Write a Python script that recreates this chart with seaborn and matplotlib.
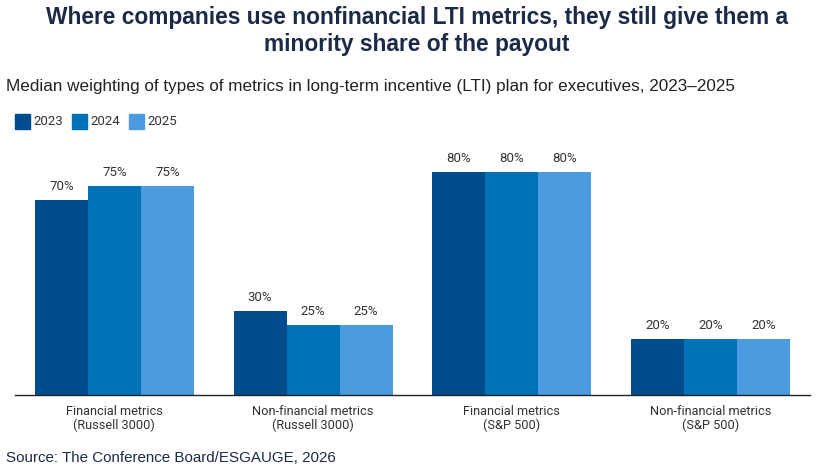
import pandas as pd
import matplotlib.pyplot as plt
import seaborn as sns

sns.set_theme(style="white")
plt.rcParams["font.family"] = ["Liberation Sans", "DejaVu Sans"]

categories = ["Financial metrics\n(Russell 3000)", "Non-financial metrics\n(Russell 3000)",
              "Financial metrics\n(S&P 500)", "Non-financial metrics\n(S&P 500)"]
years = ["2023", "2024", "2025"]
values_2023 = [70, 30, 80, 20]
values_2024 = [75, 25, 80, 20]
values_2025 = [75, 25, 80, 20]
colors = ["#004C8C", "#0072B5", "#4A9BDF"]

df = pd.DataFrame({
    "category": categories * 3,
    "year": [y for y in years for _ in categories],
    "value": values_2023 + values_2024 + values_2025,
})

fig = plt.figure(figsize=(8.34, 4.71), dpi=100)
ax = fig.add_axes([15 / 834, 1 - 395 / 471, 795 / 834, 245 / 471])

sns.barplot(data=df, x="category", y="value", hue="year", palette=colors,
            width=0.8, gap=0, saturation=1, linewidth=0, ax=ax, legend=False)

for cont in ax.containers:
    ax.bar_label(cont, labels=[f"{v:.0f}%" for v in cont.datavalues],
                 padding=5, fontsize=9.5, color="#333333", family="Roboto")

ax.set_xlim(-0.5, 3.5)
ax.set_ylim(0, 245 / 2.79)
ax.set_yticks([])
ax.set_xlabel("")
ax.set_ylabel("")
for s in ["top", "right", "left"]:
    ax.spines[s].set_visible(False)
ax.spines["bottom"].set_color("#222222")
ax.spines["bottom"].set_linewidth(1)
ax.tick_params(axis="x", length=0, pad=7)
for lbl in ax.get_xticklabels():
    lbl.set_fontsize(9.2)
    lbl.set_color("#333333")
    lbl.set_family("Roboto")
    lbl.set_linespacing(1.1)

fig.text(0.5, 1 - 31 / 471, "Where companies use nonfinancial LTI metrics, they still give them a\nminority share of the payout",
         ha="center", va="center", fontsize=16.4, fontweight="bold", color="#1B2A47", linespacing=1.2)
fig.text(6 / 834, 1 - 87 / 471, "Median weighting of types of metrics in long-term incentive (LTI) plan for executives, 2023\u20132025",
         ha="left", va="center", fontsize=12.35, color="#222222")

x0 = 15
for i, (yr, c) in enumerate(zip(years, colors)):
    fx = (x0 + i * 57) / 834
    fig.patches.append(plt.Rectangle((fx, 1 - 129 / 471), 15 / 834, 15 / 471,
                                     transform=fig.transFigure, color=c))
    fig.text(fx + 18 / 834, 1 - 121.5 / 471, yr, ha="left", va="center",
             fontsize=9.5, color="#333333", family="Roboto")

fig.text(6 / 834, 1 - 458 / 471, "Source: The Conference Board/ESGAUGE, 2026",
         ha="left", va="center", fontsize=10.9, color="#1B2A47")

fig.savefig("out.png", dpi=100)
